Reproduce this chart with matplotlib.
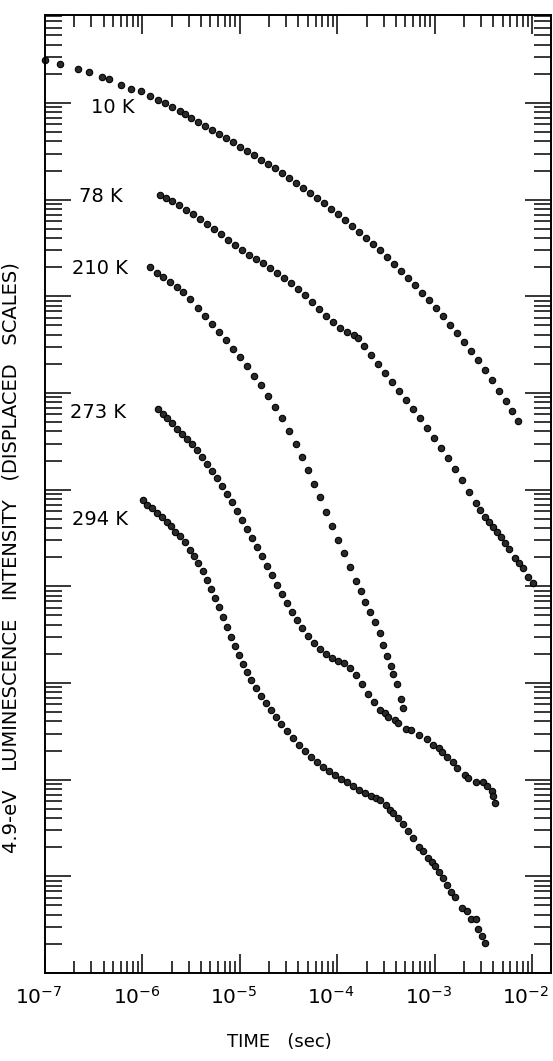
import numpy as np
import matplotlib
matplotlib.use("Agg")
import matplotlib.pyplot as plt
import matplotlib.transforms as mtransforms
from matplotlib.ticker import LogLocator, NullFormatter, FixedLocator

plt.rcParams['font.family'] = ['DejaVu Sans']
plt.rcParams['mathtext.default'] = 'regular'

# log10(time / s) and log10(intensity, displaced scales)
t_10K = [-7.00, -6.85, -6.66, -6.55, -6.41, -6.34, -6.22, -6.12, -6.01, -5.92, -5.84, -5.77,
         -5.70, -5.61, -5.56, -5.50, -5.43, -5.36, -5.29, -5.21, -5.14, -5.07, -5.00, -4.93,
         -4.85, -4.78, -4.71, -4.64, -4.57, -4.49, -4.42, -4.35, -4.28, -4.21, -4.14, -4.06,
         -3.99, -3.92, -3.85, -3.78, -3.70, -3.63, -3.56, -3.49, -3.42, -3.34, -3.27, -3.20,
         -3.13, -3.06, -2.99, -2.91, -2.84, -2.77, -2.70, -2.63, -2.55, -2.48, -2.41, -2.34,
         -2.27, -2.21, -2.14]
i_10K = [9.44, 9.40, 9.35, 9.32, 9.27, 9.25, 9.19, 9.14, 9.12, 9.07, 9.03, 9.00,
         8.96, 8.92, 8.89, 8.84, 8.80, 8.76, 8.72, 8.68, 8.64, 8.60, 8.54, 8.50,
         8.46, 8.41, 8.37, 8.33, 8.28, 8.22, 8.17, 8.12, 8.07, 8.02, 7.97, 7.90,
         7.85, 7.79, 7.73, 7.67, 7.60, 7.54, 7.48, 7.41, 7.33, 7.26, 7.19, 7.12,
         7.03, 6.96, 6.88, 6.80, 6.70, 6.62, 6.53, 6.43, 6.34, 6.24, 6.13, 6.02,
         5.92, 5.81, 5.71]

t_78K = [-5.82, -5.76, -5.70, -5.62, -5.55, -5.48, -5.41, -5.34, -5.26, -5.19, -5.12, -5.05,
         -4.98, -4.91, -4.83, -4.76, -4.69, -4.62, -4.55, -4.47, -4.40, -4.33, -4.26, -4.19,
         -4.11, -4.04, -3.97, -3.90, -3.83, -3.79, -3.72, -3.65, -3.58, -3.51, -3.44, -3.37,
         -3.29, -3.22, -3.15, -3.08, -3.01, -2.93, -2.86, -2.79, -2.72, -2.65, -2.57, -2.53,
         -2.48, -2.44, -2.40, -2.36, -2.32, -2.28, -2.24, -2.17, -2.13, -2.09, -2.04, -1.99]
i_78K = [8.05, 8.02, 7.99, 7.94, 7.89, 7.85, 7.80, 7.75, 7.70, 7.64, 7.58, 7.53,
         7.48, 7.43, 7.39, 7.34, 7.29, 7.24, 7.19, 7.14, 7.08, 7.01, 6.94, 6.87,
         6.80, 6.73, 6.67, 6.63, 6.60, 6.57, 6.49, 6.39, 6.30, 6.21, 6.11, 6.02,
         5.93, 5.83, 5.74, 5.64, 5.53, 5.43, 5.33, 5.21, 5.10, 4.98, 4.86, 4.79,
         4.72, 4.67, 4.61, 4.56, 4.51, 4.45, 4.39, 4.29, 4.24, 4.19, 4.10, 4.03]

t_210K = [-5.92, -5.85, -5.79, -5.72, -5.64, -5.58, -5.51, -5.43, -5.36, -5.29, -5.21, -5.14,
          -5.07, -5.00, -4.93, -4.85, -4.78, -4.71, -4.64, -4.57, -4.49, -4.42, -4.36, -4.30,
          -4.24, -4.18, -4.11, -4.05, -3.99, -3.93, -3.87, -3.81, -3.76, -3.71, -3.66, -3.61,
          -3.56, -3.53, -3.49, -3.45, -3.43, -3.39, -3.34, -3.32]
i_210K = [7.30, 7.24, 7.20, 7.15, 7.10, 7.04, 6.97, 6.88, 6.80, 6.71, 6.63, 6.55,
          6.46, 6.37, 6.28, 6.18, 6.08, 5.97, 5.86, 5.74, 5.61, 5.47, 5.34, 5.20,
          5.06, 4.92, 4.77, 4.62, 4.48, 4.34, 4.20, 4.06, 3.95, 3.84, 3.73, 3.63,
          3.52, 3.39, 3.28, 3.18, 3.09, 2.99, 2.83, 2.74]

t_273K = [-5.84, -5.79, -5.75, -5.70, -5.64, -5.59, -5.54, -5.49, -5.44, -5.39, -5.34, -5.29,
          -5.23, -5.18, -5.13, -5.08, -5.03, -4.98, -4.93, -4.87, -4.82, -4.77, -4.72, -4.67,
          -4.62, -4.57, -4.52, -4.46, -4.41, -4.36, -4.30, -4.24, -4.18, -4.11, -4.05, -3.99,
          -3.93, -3.87, -3.81, -3.75, -3.68, -3.62, -3.56, -3.51, -3.48, -3.41, -3.38, -3.29,
          -3.24, -3.16, -3.08, -3.02, -2.95, -2.92, -2.87, -2.81, -2.77, -2.69, -2.66, -2.57,
          -2.50, -2.46, -2.41, -2.40, -2.38]
i_273K = [5.83, 5.78, 5.74, 5.69, 5.63, 5.58, 5.52, 5.47, 5.41, 5.34, 5.27, 5.19,
          5.12, 5.04, 4.95, 4.87, 4.78, 4.69, 4.59, 4.50, 4.41, 4.31, 4.21, 4.12,
          4.01, 3.92, 3.83, 3.73, 3.65, 3.57, 3.49, 3.41, 3.35, 3.30, 3.26, 3.23,
          3.21, 3.16, 3.08, 2.99, 2.89, 2.80, 2.72, 2.69, 2.65, 2.62, 2.59, 2.52,
          2.51, 2.46, 2.42, 2.36, 2.33, 2.29, 2.23, 2.18, 2.12, 2.05, 2.02, 1.98,
          1.98, 1.93, 1.88, 1.83, 1.76]

t_294K = [-5.99, -5.95, -5.90, -5.85, -5.80, -5.75, -5.71, -5.67, -5.61, -5.56, -5.51, -5.47,
          -5.43, -5.38, -5.34, -5.30, -5.25, -5.21, -5.17, -5.13, -5.09, -5.05, -5.01, -4.97,
          -4.93, -4.88, -4.83, -4.78, -4.73, -4.68, -4.63, -4.58, -4.52, -4.45, -4.39, -4.33,
          -4.27, -4.21, -4.15, -4.08, -4.02, -3.96, -3.90, -3.84, -3.78, -3.71, -3.65, -3.60,
          -3.56, -3.50, -3.46, -3.43, -3.38, -3.32, -3.27, -3.22, -3.16, -3.12, -3.07, -3.03,
          -3.00, -2.95, -2.91, -2.87, -2.83, -2.79, -2.72, -2.67, -2.63, -2.57, -2.55, -2.51,
          -2.48]
i_294K = [4.89, 4.84, 4.81, 4.76, 4.72, 4.67, 4.62, 4.56, 4.52, 4.46, 4.38, 4.31,
          4.24, 4.16, 4.07, 3.97, 3.88, 3.79, 3.68, 3.58, 3.48, 3.38, 3.29, 3.20,
          3.11, 3.03, 2.95, 2.87, 2.79, 2.72, 2.65, 2.58, 2.50, 2.43, 2.36, 2.30,
          2.23, 2.18, 2.13, 2.09, 2.05, 2.01, 1.98, 1.93, 1.89, 1.86, 1.83, 1.81,
          1.79, 1.74, 1.69, 1.66, 1.60, 1.54, 1.47, 1.40, 1.30, 1.26, 1.19, 1.15,
          1.11, 1.04, 0.98, 0.91, 0.84, 0.79, 0.67, 0.64, 0.56, 0.56, 0.46, 0.38,
          0.31]

series = [(t_10K, i_10K), (t_78K, i_78K), (t_210K, i_210K), (t_273K, i_273K), (t_294K, i_294K)]
curve_labels = ['10 K', '78 K', '210 K', '273 K', '294 K']
# label anchor (log10 t, log10 I) for the text left edge
label_pos = [(-6.53, 8.95), (-6.65, 8.03), (-6.72, 7.29), (-6.74, 5.80), (-6.72, 4.69)]

x_decades = [-7, -6, -5, -4, -3, -2]

fig = plt.figure(figsize=(5.53, 10.61), dpi=100)
ax = fig.add_axes([45 / 553, 88 / 1061, 506 / 553, 958 / 1061])

for t, i in series:
    ax.plot(10 ** np.array(t), 10 ** np.array(i), 'o', ms=4.6, mfc='#2a2a2a', mec='black',
            mew=0.8, clip_on=False)

for txt, (lx, ly) in zip(curve_labels, label_pos):
    ax.text(10 ** lx, 10 ** ly, txt, fontsize=14, ha='left', va='center')

ax.set_xscale('log')
ax.set_yscale('log')
ax.set_xlim(1e-7, 10 ** -1.805)
ax.set_ylim(1e0, 10 ** 9.91)

ax.xaxis.set_major_locator(FixedLocator([10.0 ** d for d in x_decades]))
ax.xaxis.set_minor_locator(LogLocator(base=10, subs=np.arange(2, 10), numticks=20))
ax.set_xticklabels(['10$^{%d}$' % d for d in x_decades])
ax.xaxis.set_minor_formatter(NullFormatter())

ax.yaxis.set_major_locator(LogLocator(base=10, numticks=20))
ax.yaxis.set_minor_locator(LogLocator(base=10, subs=np.arange(2, 10), numticks=20))
ax.yaxis.set_major_formatter(NullFormatter())
ax.yaxis.set_minor_formatter(NullFormatter())

ax.tick_params(axis='x', which='major', direction='in', top=True, bottom=True,
               length=14, width=1.1, labelsize=14.5, pad=9)
ax.tick_params(axis='x', which='minor', direction='in', top=True, bottom=True,
               length=8.5, width=1.1)
ax.tick_params(axis='y', which='major', direction='in', left=True, right=True,
               length=19, width=1.1)
ax.tick_params(axis='y', which='minor', direction='in', left=True, right=True,
               length=12, width=1.1)
for s in ax.spines.values():
    s.set_linewidth(1.4)

# the printed tick labels sit a little left of their ticks
shift = mtransforms.ScaledTranslation(-6 / 100, 0, fig.dpi_scale_trans)
for lab in ax.get_xticklabels():
    lab.set_transform(lab.get_transform() + shift)

ax.set_xlabel('TIME   (sec)', fontsize=13)
ax.xaxis.set_label_coords(0.464, -0.0626)
ax.set_ylabel('4.9-eV   LUMINESCENCE   INTENSITY   (DISPLACED   SCALES)', fontsize=14)
ax.yaxis.set_label_coords(-0.0494, 0.434)

fig.savefig('out.png', dpi=100)
